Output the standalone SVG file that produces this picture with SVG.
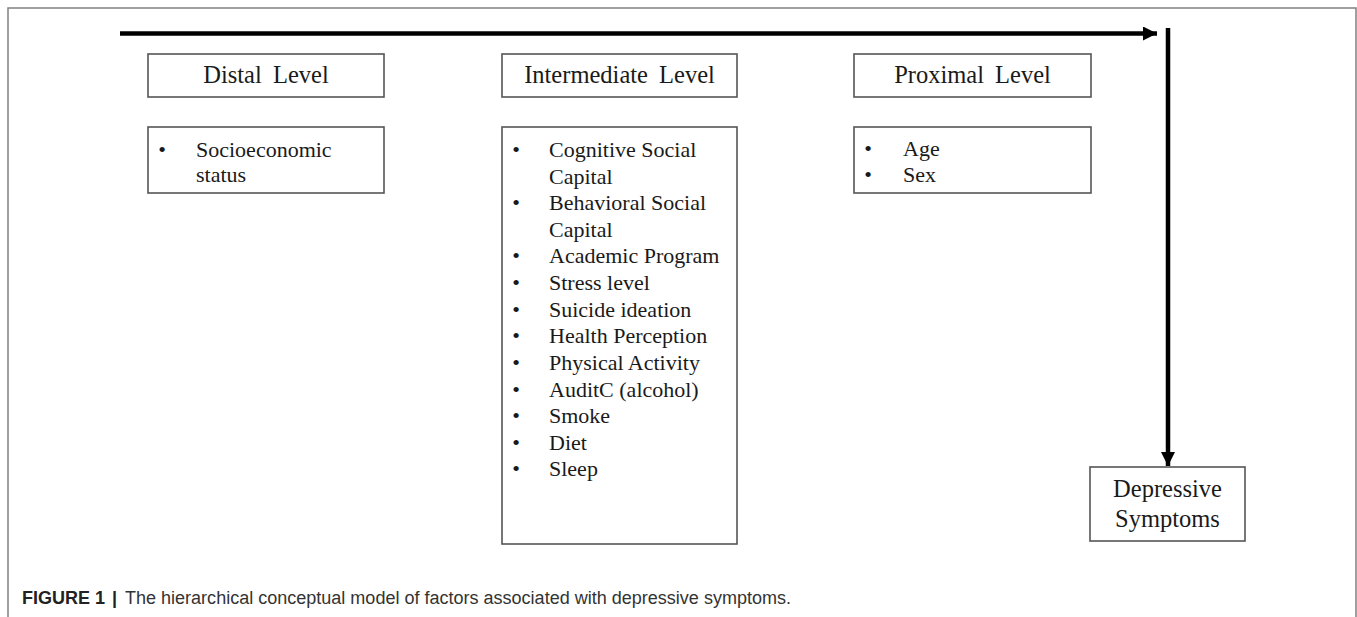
<svg xmlns="http://www.w3.org/2000/svg" width="1357" height="617" viewBox="0 0 1357 617">
<style>
.box{fill:#fff;stroke:#555;stroke-width:1.6}
.frame{fill:none;stroke:#808080;stroke-width:1.5}
.h{font-family:"Liberation Serif","Times New Roman",serif;font-size:24.5px;fill:#1a1a1a;text-anchor:middle;word-spacing:5px}
.t{font-family:"Liberation Serif","Times New Roman",serif;font-size:22px;fill:#1a1a1a}
.b{font-family:"Liberation Serif","Times New Roman",serif;font-size:22px;fill:#1a1a1a;text-anchor:middle}
.cap{font-family:"Liberation Sans",Arial,sans-serif;font-size:18px;fill:#333}
.conn{stroke:#000;stroke-width:4.5;fill:none}
</style>
<defs>
<marker id="ah" markerUnits="userSpaceOnUse" markerWidth="16" markerHeight="16" refX="14" refY="7" orient="auto">
<path d="M0,0 L14,7 L0,14 Z" fill="#000"/>
</marker>
</defs>
<rect width="1357" height="617" fill="#fff"/>
<path class="frame" d="M8,617 V8 H1356 V617"/>

<g id="connectors">
<line class="conn" x1="120" y1="33.5" x2="1157" y2="33.5" marker-end="url(#ah)"/>
<line class="conn" x1="1168" y1="28" x2="1168" y2="466" marker-end="url(#ah)"/>
</g>

<g id="distal-level">
<rect class="box" x="148" y="54" width="236" height="43"/>
<text class="h" x="266" y="83">Distal Level</text>
</g>
<g id="distal-items">
<rect class="box" x="148" y="127" width="236" height="66"/>
<text class="b" x="162" y="157">•</text>
<text class="t" x="196" y="157">Socioeconomic</text>
<text class="t" x="196" y="182">status</text>
</g>

<g id="intermediate-level">
<rect class="box" x="502" y="54" width="235" height="43"/>
<text class="h" x="619.5" y="83">Intermediate Level</text>
</g>
<g id="intermediate-items">
<rect class="box" x="502" y="127" width="235" height="417"/>
<text class="b" x="516" y="157">•</text><text class="t" x="549" y="157">Cognitive Social</text>
<text class="t" x="549" y="183.5">Capital</text>
<text class="b" x="516" y="210">•</text><text class="t" x="549" y="210">Behavioral Social</text>
<text class="t" x="549" y="236.5">Capital</text>
<text class="b" x="516" y="263">•</text><text class="t" x="549" y="263">Academic Program</text>
<text class="b" x="516" y="290">•</text><text class="t" x="549" y="290">Stress level</text>
<text class="b" x="516" y="316.5">•</text><text class="t" x="549" y="316.5">Suicide ideation</text>
<text class="b" x="516" y="343">•</text><text class="t" x="549" y="343">Health Perception</text>
<text class="b" x="516" y="369.5">•</text><text class="t" x="549" y="369.5">Physical Activity</text>
<text class="b" x="516" y="396.5">•</text><text class="t" x="549" y="396.5">AuditC (alcohol)</text>
<text class="b" x="516" y="423">•</text><text class="t" x="549" y="423">Smoke</text>
<text class="b" x="516" y="449.5">•</text><text class="t" x="549" y="449.5">Diet</text>
<text class="b" x="516" y="476">•</text><text class="t" x="549" y="476">Sleep</text>
</g>

<g id="proximal-level">
<rect class="box" x="854" y="54" width="237" height="43"/>
<text class="h" x="972.5" y="83">Proximal Level</text>
</g>
<g id="proximal-items">
<rect class="box" x="854" y="127" width="237" height="66"/>
<text class="b" x="868" y="155.5">•</text><text class="t" x="903" y="155.5">Age</text>
<text class="b" x="868" y="181.5">•</text><text class="t" x="903" y="181.5">Sex</text>
</g>

<g id="depressive-symptoms">
<rect class="box" x="1090" y="467" width="155" height="74"/>
<text class="h" x="1167.5" y="497">Depressive</text>
<text class="h" x="1167.5" y="527">Symptoms</text>
</g>

<text class="cap" x="22" y="604"><tspan font-weight="bold" fill="#222">FIGURE 1</tspan><tspan x="112" font-weight="bold" fill="#222">|</tspan><tspan x="125" textLength="666" lengthAdjust="spacingAndGlyphs">The hierarchical conceptual model of factors associated with depressive symptoms.</tspan></text>
</svg>
